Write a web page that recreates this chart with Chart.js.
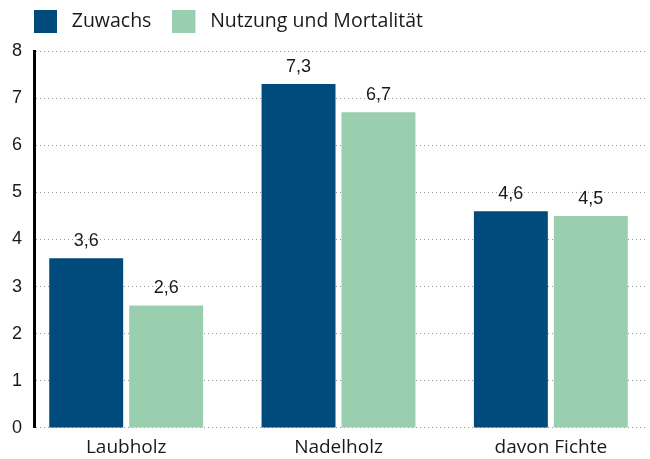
<!DOCTYPE html>
<html>
<head>
<meta charset="utf-8">
<script src="https://cdn.jsdelivr.net/npm/chart.js@4"></script>
<style>
  body { margin: 0; background: #fff; }
  #wrap { width: 650px; height: 459px; }
</style>
</head>
<body>
<div id="wrap"><canvas id="myChart"></canvas></div>
<script>
const labels = ["Laubholz", "Nadelholz", "davon Fichte"];
const zuwachs = [3.6, 7.3, 4.6];
const nutzung = [2.6, 6.7, 4.5];
const yTicks = [0, 1, 2, 3, 4, 5, 6, 7, 8];

const colors = ["rgb(0, 75, 124)", "rgb(153, 206, 175)"];

// legend swatch: 23px square with some empty room after it
function swatch(color) {
    const c = document.createElement("canvas");
    c.width = 28;
    c.height = 23;
    const g = c.getContext("2d");
    g.fillStyle = color;
    g.fillRect(0, 0, 23, 23);
    return c;
}
const swatches = colors.map(swatch);

// draws the values above each bar, with a decimal comma
const valueLabels = {
    id: "valueLabels",
    afterDatasetsDraw(chart) {
        const ctx = chart.ctx;
        ctx.save();
        ctx.font = "18px 'Liberation Sans'";
        ctx.fillStyle = "#1a1a1a";
        ctx.textAlign = "center";
        ctx.textBaseline = "bottom";
        chart.data.datasets.forEach((ds, i) => {
            chart.getDatasetMeta(i).data.forEach((bar, j) => {
                ctx.fillText(ds.data[j].toFixed(1).replace(".", ","), bar.x, bar.y - 8);
            });
        });
        ctx.restore();
    },
};

// legend lines up with the y axis; categories spread a bit wider than the grid
const layoutTweaks = {
    id: "layoutTweaks",
    afterLayout(chart) {
        chart.legend.left += 13;
        chart.legend.right += 13;
        chart.legend.top -= 9.5;
        chart.legend.bottom -= 9.5;
        const x = chart.scales.x;
        x.left -= 14;
        x.right += 10;
        x.configure();
    },
};

const data = {
    labels: labels,
    datasets: [
        {
            label: "Zuwachs",
            backgroundColor: colors[0],
            data: zuwachs,
        },
        {
            label: "Nutzung und Mortalität",
            backgroundColor: colors[1],
            data: nutzung,
        },
    ],
};

const config = {
    type: "bar",
    data: data,
    plugins: [valueLabels, layoutTweaks],
    options: {
        responsive: true,
        maintainAspectRatio: false,
        animation: false,
        layout: { padding: { left: 0, right: 3, top: 0.5, bottom: 0 } },
        datasets: {
            bar: { categoryPercentage: 0.753, barPercentage: 0.925 },
        },
        plugins: {
            tooltip: { enabled: false },
            legend: {
                align: "start",
                labels: {
                    usePointStyle: true,
                    pointStyleWidth: 28,
                    padding: 21,
                    color: "#1a1a1a",
                    font: { family: "Open Sans", size: 19.5 },
                    generateLabels(chart) {
                        const items = Chart.defaults.plugins.legend.labels.generateLabels(chart);
                        items.forEach((it, i) => { it.pointStyle = swatches[i]; });
                        return items;
                    },
                },
            },
        },
        scales: {
            x: {
                grid: { display: false },
                border: { display: false },
                ticks: {
                    padding: 3,
                    color: "#1a1a1a",
                    font: { family: "Open Sans", size: 19, lineHeight: 0.9 },
                },
            },
            y: {
                min: 0,
                max: 8,
                afterBuildTicks: (axis) => {
                    axis.ticks = yTicks.map((v) => ({ value: v }));
                },
                border: { display: true, color: "#000", width: 3, dash: [1, 3] },
                grid: {
                    color: "#999",
                    lineWidth: 1,
                    drawTicks: false,
                },
                ticks: {
                    padding: 12,
                    color: "#1a1a1a",
                    font: { family: "Liberation Sans", size: 18 },
                },
            },
        },
    },
};

new Chart(document.getElementById("myChart"), config);
</script>
</body>
</html>
